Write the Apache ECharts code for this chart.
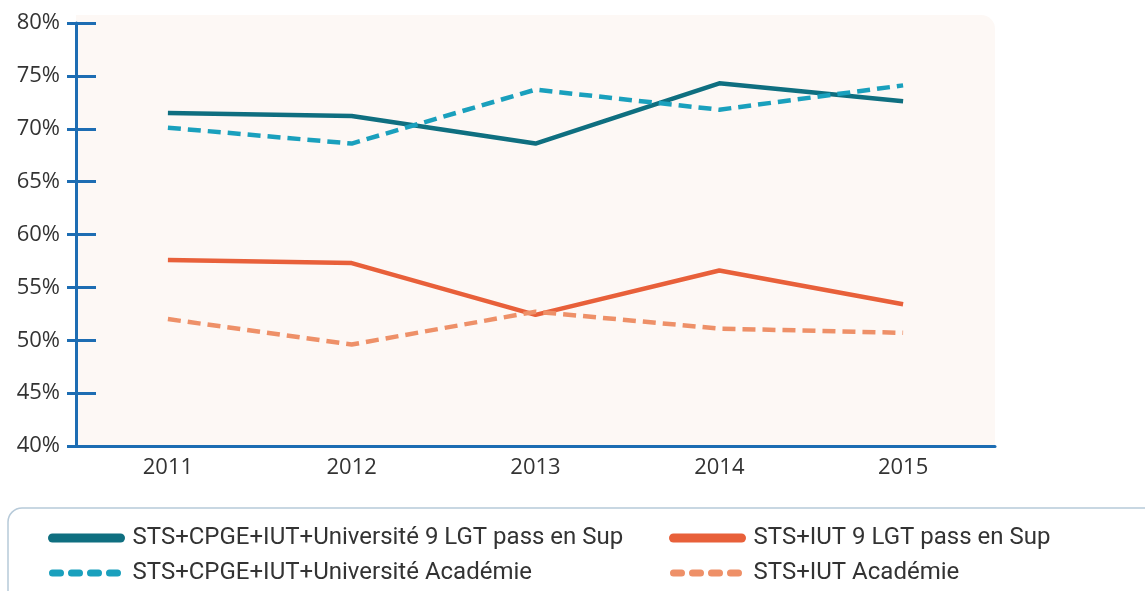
<!DOCTYPE html>
<html><head><meta charset="utf-8">
<script src="https://cdn.jsdelivr.net/npm/echarts@6/dist/echarts.min.js"></script>
<style>html,body{margin:0;padding:0;background:#fff}#c{width:1145px;height:591px}</style>
</head><body><div id="c"></div>
<script>
const years = ['2011','2012','2013','2014','2015'];
const seriesNames = ['STS+CPGE+IUT+Université 9 LGT pass en Sup','STS+CPGE+IUT+Université Académie','STS+IUT 9 LGT pass en Sup','STS+IUT Académie'];
const univLGT = [71.5, 71.2, 68.6, 74.3, 72.6];
const univAcad = [70.1, 68.6, 73.7, 71.8, 74.1];
const iutLGT = [57.6, 57.3, 52.4, 56.6, 53.4];
const iutAcad = [52.0, 49.6, 52.7, 51.1, 50.7];
const yTicks = [40,45,50,55,60,65,70,75,80];

const AXFONT = 'Open Sans';
const LGFONT = 'Roboto';
const chart = echarts.init(document.getElementById('c'), null, {renderer:'canvas'});
const colors = ['#0f6f80','#1aa0bd','#e8603a','#ee9068'];
const mk = (name, data, i, dashed) => ({
  name, type:'line', data, symbol:'none', smooth:false, z: 5,
  lineStyle:{color:colors[i], width:4.5, type: dashed ? [13,7] : 'solid', cap:'butt', join:'round'},
  itemStyle:{color:colors[i]}
});
const legendItem = (name, dashed) => ({
  name,
  itemStyle:{color:'rgba(0,0,0,0)', borderWidth:0, opacity:0},
  lineStyle: dashed ? {width:7, type:[8,11], cap:'round'} : {width:9, type:'solid', cap:'round'}
});
const legendCommon = {
  orient:'vertical', top:526, height:70, padding:0, itemGap:11, itemWidth:68, itemHeight:12,
  textStyle:{fontSize:24, lineHeight:24, color:'#333', fontFamily:LGFONT, padding:[0,0,0,7]}
};
chart.setOption({
  animation:false,
  textStyle:{fontFamily:AXFONT},
  graphic:[
    {type:'rect', z:-10, shape:{x:76, y:15, width:919, height:431, r:[0,14,0,0]}, style:{fill:'#fdf8f5'}},
    {type:'rect', z:-10, shape:{x:8, y:508, width:1150, height:100, r:14}, style:{fill:'#fff', stroke:'#b7cad9', lineWidth:1.5}}
  ],
  grid:{left:76, right:150, top:23, bottom:145, containLabel:false},
  xAxis:{type:'category', data:years, boundaryGap:true,
    axisLine:{lineStyle:{color:'#1d6db3', width:3}},
    axisTick:{show:false},
    axisLabel:{color:'#333', fontSize:22, margin:11, fontFamily:AXFONT}},
  yAxis:[
    {type:'value', min:40, max:80, interval:5, position:'left',
     axisLine:{show:true, lineStyle:{color:'#1d6db3', width:3}},
     axisTick:{show:true, inside:true, length:20, lineStyle:{color:'#1d6db3', width:3}},
     splitLine:{show:false},
     axisLabel:{color:'#333', fontSize:22, margin:16, fontFamily:AXFONT, formatter: v => yTicks.includes(v) ? v + '%' : ''}},
    {type:'value', min:40, max:80, interval:5, position:'left',
     axisLine:{show:false},
     axisTick:{show:true, inside:false, length:9, lineStyle:{color:'#1d6db3', width:3}},
     splitLine:{show:false}, axisLabel:{show:false}}
  ],
  legend:[
    Object.assign({left:48, data:[legendItem(seriesNames[0], false), legendItem(seriesNames[1], true)]}, legendCommon),
    Object.assign({left:669, data:[legendItem(seriesNames[2], false), legendItem(seriesNames[3], true)]}, legendCommon)
  ],
  series:[
    mk(seriesNames[0], univLGT, 0, false),
    mk(seriesNames[1], univAcad, 1, true),
    mk(seriesNames[2], iutLGT, 2, false),
    mk(seriesNames[3], iutAcad, 3, true)
  ]
});
</script></body></html>
